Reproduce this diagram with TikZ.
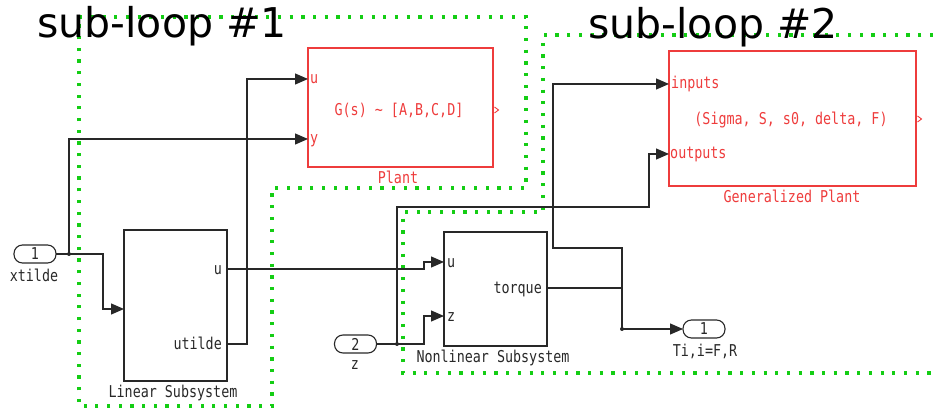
\documentclass[tikz,border=0pt]{standalone}
\usepackage{fontspec}
\setmainfont{DejaVu Sans}
\newfontfamily\monof[FakeStretch=0.82]{DejaVu Sans Mono}
\usetikzlibrary{arrows.meta}
\definecolor{slred}{RGB}{238,60,60}
\definecolor{slgreen}{RGB}{20,205,20}
\definecolor{slwire}{RGB}{40,40,40}
\newcommand{\mtext}{\fontsize{16.3}{18}\monof}
\begin{document}
\begin{tikzpicture}[x=1pt,y=-1pt]
\tikzset{
 wire/.style={draw=slwire, line width=1.2pt},
 arr/.style={wire, -{Triangle[length=13pt,width=11pt]}},
 blackblk/.style={draw=slwire, line width=1.2pt, rectangle, inner sep=0pt, outer sep=0pt},
 redblk/.style={draw=slred, line width=1.4pt, rectangle, inner sep=0pt, outer sep=0pt},
 iport/.style={draw=slwire, line width=1.1pt, rounded corners=8.5pt, minimum width=42pt, minimum height=18pt, inner sep=0pt, outer sep=0pt, font=\mtext, text=slwire},
 lbl/.style={font=\mtext, text=slwire, inner sep=0pt},
 rlbl/.style={font=\mtext, text=slred, inner sep=0pt},
 loopline/.style={draw=slgreen, line width=3.2pt, dash pattern=on 3.2pt off 8.5pt},
 title/.style={font=\fontsize{41}{48}\selectfont, inner sep=0pt, anchor=base},
 jdot/.style={circle, fill=slwire, inner sep=0pt, minimum size=4pt}
}
\useasboundingbox (0,0) rectangle (933,411);

% sub-loop boundaries
\draw[loopline] (79,17) -- (526,17) -- (526,188) -- (272,188) -- (272,406) -- (79,406) -- cycle;
\draw[loopline] (933,35) -- (543,35) -- (543,212) -- (403,212) -- (403,373) -- (933,373);

% titles
\node[title] (t1) at (162,38) {sub-loop \#1};
\node[title] (t2) at (713,39) {sub-loop \#2};

% blocks
\node[redblk, minimum width=185pt, minimum height=119pt] (plant) at (400.5,107.5) {};
\node[rlbl] (plantc) at (399,110) {G(s) \textasciitilde{} [A,B,C,D]};
\node[rlbl, anchor=base] (plantl) at (398,184) {Plant};
\draw[slred, line width=0.9pt] (494.5,107) -- (498.5,110) -- (494.5,113);

\node[redblk, minimum width=247pt, minimum height=135pt] (gplant) at (792.5,118.5) {};
\node[rlbl] (gplantc) at (791,120) {(Sigma, S, s0, delta, F)};
\node[rlbl, anchor=base] (gplantl) at (792,203) {Generalized Plant};
\draw[slred, line width=0.9pt] (917.5,116) -- (921.5,119) -- (917.5,122);

\node[blackblk, minimum width=103pt, minimum height=151pt] (lin) at (175.5,305.5) {};
\node[lbl, anchor=base] (linl) at (173,397) {Linear Subsystem};

\node[blackblk, minimum width=103pt, minimum height=114pt] (nonlin) at (495.5,289) {};
\node[lbl, anchor=base] (nonlinl) at (493,362) {Nonlinear Subsystem};

\node[iport] (in1) at (35,254) {1};
\node[lbl, anchor=base] (in1l) at (34,281) {xtilde};
\node[iport] (in2) at (355.5,344) {2};
\node[lbl, anchor=base] (in2l) at (355,369) {z};
\node[iport] (out1) at (704,329) {1};
\node[lbl, anchor=base] (out1l) at (705,356) {Ti,i=F,R};

% port coordinates
\coordinate (plant-u) at (308,79);
\coordinate (plant-y) at (308,139);
\coordinate (gp-in) at (669,84);
\coordinate (gp-out) at (669,154);
\coordinate (lin-in) at (124,309);
\coordinate (lin-u) at (227,269);
\coordinate (lin-ut) at (227,344);
\coordinate (nl-u) at (444,262);
\coordinate (nl-z) at (444,316);
\coordinate (nl-tq) at (547,288);

% port labels
\node[rlbl, anchor=mid west] at (310,81) {u};
\node[rlbl, anchor=mid west] at (310,141) {y};
\node[rlbl, anchor=mid west] at (671,86) {inputs};
\node[rlbl, anchor=mid west] at (670,156) {outputs};
\node[lbl, anchor=mid east] at (222,272) {u};
\node[lbl, anchor=mid east] at (222,347) {utilde};
\node[lbl, anchor=mid west] at (447,265) {u};
\node[lbl, anchor=mid west] at (447,319) {z};
\node[lbl, anchor=mid east] at (542,291) {torque};

% junctions
\node[jdot] (j1) at (69,254) {};
\node[jdot] (j2) at (397,344) {};
\node[jdot] (j3) at (622,329) {};

% wires
\draw[wire] (in1.east) -- (j1.center);
\draw[arr] (j1.center) -- (69,139) -- (plant-y);
\draw[arr] (j1.center) -- (103,254) -- (103,309) -- (lin-in);
\draw[arr] (lin-u) -- (424,269) -- (424,262) -- (nl-u);
\draw[arr] (lin-ut) -- (247,344) -- (247,79) -- (plant-u);
\draw[wire] (in2.east) -- (j2.center);
\draw[arr] (j2.center) -- (424,344) -- (424,316) -- (nl-z);
\draw[arr] (j2.center) -- (397,207) -- (649,207) -- (649,154) -- (gp-out);
\draw[wire] (nl-tq) -- (622,288);
\draw[arr] (j3.center) -- (out1.west);
\draw[arr] (j3.center) -- (622,248) -- (553,248) -- (553,84) -- (gp-in);
\end{tikzpicture}
\end{document}
